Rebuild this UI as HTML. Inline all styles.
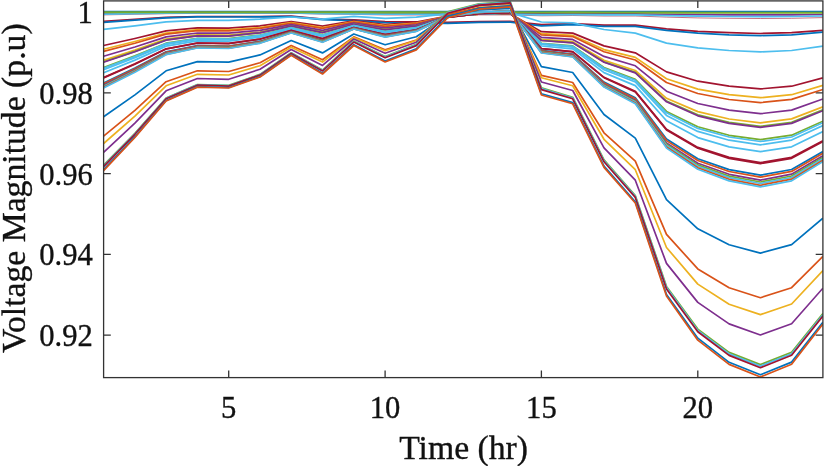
<!DOCTYPE html>
<html><head><meta charset="utf-8"><title>Voltage Magnitude</title>
<style>
html,body{margin:0;padding:0;background:#fff;}
body{width:824px;height:466px;overflow:hidden;}
svg{display:block;}
text{font-family:"Liberation Serif","Times New Roman",serif;fill:#111;stroke:#111;stroke-width:0.35px;}
</style></head><body>
<svg width="824" height="466" viewBox="0 0 824 466">
<rect width="824" height="466" fill="#fff"/>
<defs><clipPath id="c"><rect x="103.6" y="0.9" width="719.3" height="376.7"/></clipPath></defs>
<g fill="none" stroke="#333" stroke-width="1.3">
<path d="M228.7 377.6V370.4M228.7 0.9V8.1"/>
<path d="M385.1 377.6V370.4M385.1 0.9V8.1"/>
<path d="M541.4 377.6V370.4M541.4 0.9V8.1"/>
<path d="M697.8 377.6V370.4M697.8 0.9V8.1"/>
<path d="M103.6 12.1H110.8M822.9 12.1H815.7"/>
<path d="M103.6 92.9H110.8M822.9 92.9H815.7"/>
<path d="M103.6 173.6H110.8M822.9 173.6H815.7"/>
<path d="M103.6 254.4H110.8M822.9 254.4H815.7"/>
<path d="M103.6 335.1H110.8M822.9 335.1H815.7"/>
</g>
<g fill="none" stroke-width="1.7" stroke-linejoin="round" clip-path="url(#c)">
<polyline points="103.6,11.7 134.9,11.7 166.1,11.7 197.4,11.7 228.7,11.7 260.0,11.7 291.2,11.7 322.5,11.7 353.8,11.7 385.1,11.7 416.3,11.7 447.6,11.7 478.9,11.7 510.2,11.7 541.4,11.7 572.7,11.7 604.0,11.7 635.3,11.7 666.5,11.7 697.8,11.7 729.1,11.7 760.4,11.7 791.6,11.7 822.9,11.7" stroke="#0072BD"/>
<polyline points="103.6,14.9 134.9,14.3 166.1,13.7 197.4,13.4 228.7,13.4 260.0,13.4 291.2,13.3 322.5,14.1 353.8,14.4 385.1,15.0 416.3,15.0 447.6,15.2 478.9,14.9 510.2,14.9 541.4,15.8 572.7,15.5 604.0,16.0 635.3,16.0 666.5,17.1 697.8,17.9 729.1,18.3 760.4,18.5 791.6,18.3 822.9,17.6" stroke="#A2142F" stroke-width="1" stroke-opacity="0.6"/>
<polyline points="103.6,13.3 134.9,13.1 166.1,12.8 197.4,12.7 228.7,12.7 260.0,12.7 291.2,12.6 322.5,13.0 353.8,13.1 385.1,13.4 416.3,13.4 447.6,13.5 478.9,13.3 510.2,13.3 541.4,13.7 572.7,13.6 604.0,13.8 635.3,13.8 666.5,14.3 697.8,14.6 729.1,14.8 760.4,14.9 791.6,14.8 822.9,14.5" stroke="#7E2F8E"/>
<polyline points="103.6,14.1 134.9,13.7 166.1,13.2 197.4,13.0 228.7,13.1 260.0,13.0 291.2,13.0 322.5,13.6 353.8,13.8 385.1,14.2 416.3,14.2 447.6,14.3 478.9,14.1 510.2,14.1 541.4,14.8 572.7,14.6 604.0,14.9 635.3,14.9 666.5,15.7 697.8,16.2 729.1,16.5 760.4,16.7 791.6,16.5 822.9,16.0" stroke="#4DBEEE"/>
<polyline points="103.6,12.3 134.9,12.3 166.1,12.2 197.4,12.2 228.7,12.2 260.0,12.2 291.2,12.2 322.5,12.3 353.8,12.3 385.1,12.4 416.3,12.4 447.6,12.4 478.9,12.4 510.2,12.3 541.4,12.5 572.7,12.4 604.0,12.5 635.3,12.5 666.5,12.6 697.8,12.7 729.1,12.8 760.4,12.8 791.6,12.8 822.9,12.7" stroke="#77AC30" stroke-width="2.1"/>
<polyline points="103.6,21.4 134.9,19.4 166.1,17.3 197.4,16.5 228.7,16.5 260.0,16.5 291.2,16.2 322.5,19.0 353.8,19.9 385.1,21.7 416.3,21.9 447.6,22.4 478.9,21.5 510.2,21.3 541.4,24.6 572.7,23.6 604.0,25.1 635.3,25.1 666.5,28.8 697.8,31.3 729.1,32.7 760.4,33.5 791.6,32.7 822.9,30.4" stroke="#A2142F"/>
<polyline points="103.6,22.3 134.9,20.1 166.1,17.8 197.4,16.9 228.7,17.0 260.0,16.9 291.2,16.6 322.5,19.6 353.8,20.7 385.1,22.6 416.3,22.8 447.6,23.4 478.9,22.4 510.2,22.2 541.4,25.8 572.7,24.7 604.0,26.3 635.3,26.3 666.5,30.4 697.8,33.2 729.1,34.8 760.4,35.6 791.6,34.8 822.9,32.2" stroke="#0072BD"/>
<polyline points="103.6,29.4 134.9,25.8 166.1,21.8 197.4,20.3 228.7,20.4 260.0,19.2 291.2,17.0 322.5,19.2 353.8,16.4 385.1,18.3 416.3,17.1 447.6,13.9 478.9,12.9 510.2,12.6 541.4,22.0 572.7,22.8 604.0,29.5 635.3,33.1 666.5,43.1 697.8,47.9 729.1,50.5 760.4,51.9 791.6,50.5 822.9,46.1" stroke="#4DBEEE"/>
<polyline points="103.6,45.5 134.9,38.5 166.1,30.8 197.4,27.9 228.7,28.1 260.0,25.9 291.2,21.6 322.5,26.1 353.8,20.8 385.1,24.5 416.3,22.2 447.6,16.2 478.9,14.2 510.2,13.7 541.4,31.7 572.7,33.1 604.0,45.9 635.3,52.8 666.5,71.9 697.8,81.2 729.1,86.2 760.4,88.9 791.6,86.2 822.9,77.8" stroke="#A2142F"/>
<polyline points="103.6,49.3 134.9,41.5 166.1,33.0 197.4,29.7 228.7,29.9 260.0,27.5 291.2,22.7 322.5,27.5 353.8,21.6 385.1,25.7 416.3,23.1 447.6,16.3 478.9,14.2 510.2,13.6 541.4,33.7 572.7,35.4 604.0,49.6 635.3,57.4 666.5,78.7 697.8,89.1 729.1,94.7 760.4,97.7 791.6,94.7 822.9,85.3" stroke="#EDB120"/>
<polyline points="103.6,51.4 134.9,43.2 166.1,34.1 197.4,30.7 228.7,30.9 260.0,28.4 291.2,23.3 322.5,28.4 353.8,22.1 385.1,26.4 416.3,23.6 447.6,16.4 478.9,14.1 510.2,13.5 541.4,34.9 572.7,36.6 604.0,51.7 635.3,60.0 666.5,82.5 697.8,93.5 729.1,99.5 760.4,102.6 791.6,99.4 822.9,89.5" stroke="#D95319"/>
<polyline points="103.6,60.2 134.9,50.1 166.1,39.1 197.4,34.9 228.7,35.1 260.0,32.0 291.2,25.6 322.5,31.8 353.8,23.9 385.1,29.2 416.3,25.7 447.6,16.7 478.9,14.0 510.2,13.2 541.4,39.4 572.7,41.7 604.0,60.3 635.3,70.5 666.5,98.3 697.8,111.6 729.1,119.0 760.4,122.8 791.6,118.9 822.9,106.8" stroke="#EDB120"/>
<polyline points="103.6,56.2 134.9,47.0 166.1,36.9 197.4,33.0 228.7,33.2 260.0,30.3 291.2,24.6 322.5,30.3 353.8,23.1 385.1,27.9 416.3,24.8 447.6,16.6 478.9,14.0 510.2,13.4 541.4,37.4 572.7,39.4 604.0,56.4 635.3,65.8 666.5,91.2 697.8,103.5 729.1,110.2 760.4,113.7 791.6,110.1 822.9,99.0" stroke="#7E2F8E"/>
<polyline points="103.6,61.7 134.9,51.4 166.1,39.9 197.4,35.6 228.7,35.9 260.0,32.6 291.2,26.1 322.5,32.4 353.8,24.2 385.1,29.6 416.3,26.1 447.6,16.8 478.9,13.9 510.2,13.2 541.4,40.3 572.7,42.6 604.0,61.9 635.3,72.4 666.5,101.1 697.8,114.9 729.1,122.4 760.4,126.4 791.6,122.4 822.9,109.8" stroke="#77AC30"/>
<polyline points="103.6,62.2 134.9,51.7 166.1,40.2 197.4,35.8 228.7,36.1 260.0,32.8 291.2,26.2 322.5,32.6 353.8,24.3 385.1,29.8 416.3,26.2 447.6,16.8 478.9,13.9 510.2,13.2 541.4,40.5 572.7,42.8 604.0,62.3 635.3,72.9 666.5,101.8 697.8,115.8 729.1,123.4 760.4,127.4 791.6,123.4 822.9,110.7" stroke="#7E2F8E"/>
<polyline points="103.6,67.5 134.9,55.9 166.1,43.2 197.4,38.3 228.7,38.6 260.0,35.0 291.2,27.6 322.5,34.7 353.8,25.5 385.1,31.5 416.3,27.5 447.6,17.0 478.9,13.8 510.2,13.0 541.4,43.3 572.7,45.9 604.0,67.5 635.3,79.4 666.5,111.4 697.8,126.8 729.1,135.3 760.4,139.7 791.6,135.2 822.9,121.2" stroke="#77AC30"/>
<polyline points="103.6,68.3 134.9,56.6 166.1,43.6 197.4,38.7 228.7,39.0 260.0,35.3 291.2,27.8 322.5,35.0 353.8,25.6 385.1,31.7 416.3,27.7 447.6,17.0 478.9,13.8 510.2,13.0 541.4,43.7 572.7,46.4 604.0,68.3 635.3,80.3 666.5,112.8 697.8,128.4 729.1,137.0 760.4,141.5 791.6,137.0 822.9,122.7" stroke="#4DBEEE"/>
<polyline points="103.6,69.7 134.9,57.7 166.1,44.4 197.4,39.4 228.7,39.7 260.0,35.9 291.2,28.2 322.5,35.5 353.8,25.9 385.1,32.2 416.3,28.0 447.6,17.0 478.9,13.8 510.2,12.9 541.4,44.4 572.7,47.2 604.0,69.7 635.3,82.0 666.5,115.4 697.8,131.4 729.1,140.2 760.4,144.8 791.6,140.1 822.9,125.6" stroke="#4DBEEE"/>
<polyline points="103.6,72.7 134.9,60.1 166.1,46.1 197.4,40.8 228.7,41.1 260.0,37.1 291.2,29.0 322.5,36.7 353.8,26.6 385.1,33.1 416.3,28.7 447.6,17.2 478.9,13.7 510.2,12.8 541.4,46.0 572.7,48.9 604.0,72.6 635.3,85.6 666.5,120.8 697.8,137.6 729.1,146.9 760.4,151.7 791.6,146.8 822.9,131.5" stroke="#4DBEEE"/>
<polyline points="103.6,77.5 134.9,63.8 166.1,48.8 197.4,43.0 228.7,43.4 260.0,39.0 291.2,30.3 322.5,38.6 353.8,27.6 385.1,34.6 416.3,29.9 447.6,17.3 478.9,13.7 510.2,12.6 541.4,48.5 572.7,51.7 604.0,77.3 635.3,91.3 666.5,129.2 697.8,147.4 729.1,157.4 760.4,162.6 791.6,157.3 822.9,140.8" stroke="#A2142F"/>
<polyline points="103.6,77.9 134.9,64.2 166.1,49.0 197.4,43.2 228.7,43.6 260.0,39.2 291.2,30.5 322.5,38.7 353.8,27.6 385.1,34.7 416.3,30.0 447.6,17.3 478.9,13.6 510.2,12.6 541.4,48.7 572.7,51.9 604.0,77.7 635.3,91.9 666.5,130.0 697.8,148.3 729.1,158.4 760.4,163.6 791.6,158.3 822.9,141.6" stroke="#A2142F"/>
<polyline points="103.6,82.9 134.9,68.1 166.1,51.8 197.4,45.6 228.7,46.0 260.0,41.2 291.2,31.6 322.5,40.3 353.8,28.0 385.1,35.5 416.3,30.2 447.6,16.2 478.9,12.3 510.2,11.3 541.4,50.4 572.7,54.1 604.0,82.1 635.3,97.7 666.5,139.0 697.8,158.8 729.1,169.6 760.4,175.2 791.6,169.5 822.9,151.6" stroke="#0072BD"/>
<polyline points="103.6,83.8 134.9,68.8 166.1,52.3 197.4,46.0 228.7,46.4 260.0,41.6 291.2,31.9 322.5,40.6 353.8,28.1 385.1,35.7 416.3,30.4 447.6,16.3 478.9,12.3 510.2,11.2 541.4,50.8 572.7,54.6 604.0,83.0 635.3,98.8 666.5,140.6 697.8,160.5 729.1,171.5 760.4,177.2 791.6,171.4 822.9,153.3" stroke="#D95319"/>
<polyline points="103.6,85.1 134.9,69.8 166.1,53.0 197.4,46.6 228.7,47.0 260.0,42.1 291.2,32.2 322.5,41.1 353.8,28.4 385.1,36.1 416.3,30.7 447.6,16.3 478.9,12.3 510.2,11.2 541.4,51.5 572.7,55.3 604.0,84.2 635.3,100.3 666.5,142.9 697.8,163.2 729.1,174.3 760.4,180.1 791.6,174.2 822.9,155.7" stroke="#7E2F8E"/>
<polyline points="103.6,85.9 134.9,70.5 166.1,53.5 197.4,47.0 228.7,47.4 260.0,42.4 291.2,32.4 322.5,41.4 353.8,28.6 385.1,36.4 416.3,30.9 447.6,16.4 478.9,12.3 510.2,11.2 541.4,51.9 572.7,55.8 604.0,85.0 635.3,101.3 666.5,144.3 697.8,164.9 729.1,176.1 760.4,182.0 791.6,176.0 822.9,157.4" stroke="#77AC30"/>
<polyline points="103.6,86.5 134.9,71.0 166.1,53.9 197.4,47.3 228.7,47.8 260.0,42.7 291.2,32.6 322.5,41.7 353.8,28.7 385.1,36.6 416.3,31.1 447.6,16.4 478.9,12.3 510.2,11.1 541.4,52.3 572.7,56.1 604.0,85.7 635.3,102.0 666.5,145.5 697.8,166.2 729.1,177.6 760.4,183.5 791.6,177.5 822.9,158.7" stroke="#4DBEEE"/>
<polyline points="103.6,87.3 134.9,71.6 166.1,54.3 197.4,47.7 228.7,48.1 260.0,43.0 291.2,32.8 322.5,42.0 353.8,28.9 385.1,36.8 416.3,31.2 447.6,16.4 478.9,12.3 510.2,11.1 541.4,52.7 572.7,56.6 604.0,86.4 635.3,103.0 666.5,146.9 697.8,167.8 729.1,179.3 760.4,185.3 791.6,179.2 822.9,160.2" stroke="#D95319"/>
<polyline points="103.6,88.0 134.9,72.2 166.1,54.7 197.4,48.0 228.7,48.5 260.0,43.3 291.2,33.0 322.5,42.3 353.8,29.0 385.1,37.1 416.3,31.4 447.6,16.4 478.9,12.2 510.2,11.1 541.4,53.0 572.7,57.0 604.0,87.1 635.3,103.8 666.5,148.1 697.8,169.3 729.1,180.9 760.4,186.9 791.6,180.8 822.9,161.6" stroke="#4DBEEE"/>
<polyline points="103.6,116.8 134.9,94.9 166.1,70.8 197.4,61.6 228.7,62.2 260.0,54.9 291.2,40.5 322.5,52.9 353.8,34.0 385.1,44.8 416.3,36.8 447.6,15.5 478.9,9.9 510.2,8.3 541.4,66.6 572.7,72.5 604.0,114.5 635.3,138.1 666.5,199.7 697.8,228.8 729.1,244.8 760.4,253.1 791.6,244.6 822.9,218.2" stroke="#0072BD"/>
<polyline points="103.6,136.2 134.9,110.3 166.1,81.7 197.4,70.8 228.7,71.5 260.0,62.8 291.2,45.5 322.5,59.8 353.8,36.9 385.1,49.7 416.3,40.0 447.6,14.3 478.9,7.7 510.2,5.8 541.4,75.3 572.7,82.5 604.0,132.8 635.3,161.1 666.5,234.4 697.8,268.9 729.1,287.8 760.4,297.7 791.6,287.7 822.9,256.3" stroke="#D95319"/>
<polyline points="103.6,143.5 134.9,116.1 166.1,85.8 197.4,74.3 228.7,75.0 260.0,65.7 291.2,47.2 322.5,62.1 353.8,37.5 385.1,50.8 416.3,40.5 447.6,12.9 478.9,5.9 510.2,4.0 541.4,77.8 572.7,85.7 604.0,139.3 635.3,169.7 666.5,247.5 697.8,284.1 729.1,304.2 760.4,314.6 791.6,304.0 822.9,270.7" stroke="#EDB120"/>
<polyline points="103.6,152.4 134.9,123.1 166.1,90.8 197.4,78.5 228.7,79.3 260.0,69.3 291.2,49.5 322.5,65.4 353.8,39.0 385.1,53.3 416.3,42.2 447.6,12.7 478.9,5.3 510.2,3.2 541.4,82.0 572.7,90.5 604.0,147.8 635.3,180.2 666.5,263.4 697.8,302.4 729.1,323.9 760.4,335.0 791.6,323.7 822.9,288.2" stroke="#7E2F8E"/>
<polyline points="103.6,165.2 134.9,133.3 166.1,98.0 197.4,84.5 228.7,85.4 260.0,74.4 291.2,52.8 322.5,70.0 353.8,41.0 385.1,56.5 416.3,44.3 447.6,11.9 478.9,3.8 510.2,1.5 541.4,87.8 572.7,97.2 604.0,159.9 635.3,195.5 666.5,286.4 697.8,329.1 729.1,352.4 760.4,364.6 791.6,352.2 822.9,313.5" stroke="#77AC30"/>
<polyline points="103.6,165.9 134.9,133.8 166.1,98.3 197.4,84.9 228.7,85.7 260.0,74.8 291.2,53.1 322.5,70.5 353.8,41.5 385.1,57.1 416.3,44.9 447.6,12.5 478.9,4.4 510.2,2.1 541.4,88.6 572.7,98.0 604.0,160.8 635.3,196.4 666.5,287.6 697.8,330.4 729.1,353.9 760.4,366.1 791.6,353.7 822.9,314.8" stroke="#4DBEEE"/>
<polyline points="103.6,166.6 134.9,134.3 166.1,98.7 197.4,85.2 228.7,86.1 260.0,75.1 291.2,53.4 322.5,71.0 353.8,42.1 385.1,57.8 416.3,45.6 447.6,13.3 478.9,5.1 510.2,2.8 541.4,89.6 572.7,98.8 604.0,161.8 635.3,197.4 666.5,288.9 697.8,331.8 729.1,355.4 760.4,367.7 791.6,355.2 822.9,316.1" stroke="#A2142F"/>
<polyline points="103.6,169.6 134.9,136.7 166.1,100.5 197.4,86.6 228.7,87.5 260.0,76.5 291.2,54.8 322.5,73.3 353.8,44.7 385.1,61.0 416.3,48.9 447.6,16.7 478.9,8.2 510.2,5.8 541.4,93.7 572.7,102.6 604.0,166.1 635.3,201.7 666.5,294.4 697.8,338.2 729.1,362.3 760.4,374.8 791.6,362.1 822.9,322.2" stroke="#0072BD"/>
<polyline points="103.6,170.6 134.9,137.5 166.1,101.0 197.4,87.1 228.7,88.0 260.0,77.0 291.2,55.2 322.5,74.0 353.8,45.5 385.1,62.0 416.3,49.9 447.6,17.8 478.9,9.2 510.2,6.8 541.4,95.0 572.7,103.8 604.0,167.4 635.3,203.0 666.5,296.1 697.8,340.2 729.1,364.4 760.4,377.0 791.6,364.2 822.9,324.1" stroke="#D95319"/>
</g>
<rect x="103.6" y="0.9" width="719.3" height="376.7" fill="none" stroke="#333" stroke-width="1.3"/>
<g font-size="30.6px">
<text x="228.7" y="417.6" text-anchor="middle">5</text>
<text x="385.1" y="417.6" text-anchor="middle">10</text>
<text x="541.4" y="417.6" text-anchor="middle">15</text>
<text x="697.8" y="417.6" text-anchor="middle">20</text>
<text x="92.8" y="23.1" text-anchor="end">1</text>
<text x="92.8" y="103.9" text-anchor="end">0.98</text>
<text x="92.8" y="184.6" text-anchor="end">0.96</text>
<text x="92.8" y="265.4" text-anchor="end">0.94</text>
<text x="92.8" y="346.1" text-anchor="end">0.92</text>
</g>
<text x="463.6" y="458.6" font-size="33.7px" text-anchor="middle">Time (hr)</text>
<text transform="translate(25,188.2) rotate(-90)" font-size="33.7px" text-anchor="middle">Voltage Magnitude (p.u)</text>
</svg>
</body></html>
